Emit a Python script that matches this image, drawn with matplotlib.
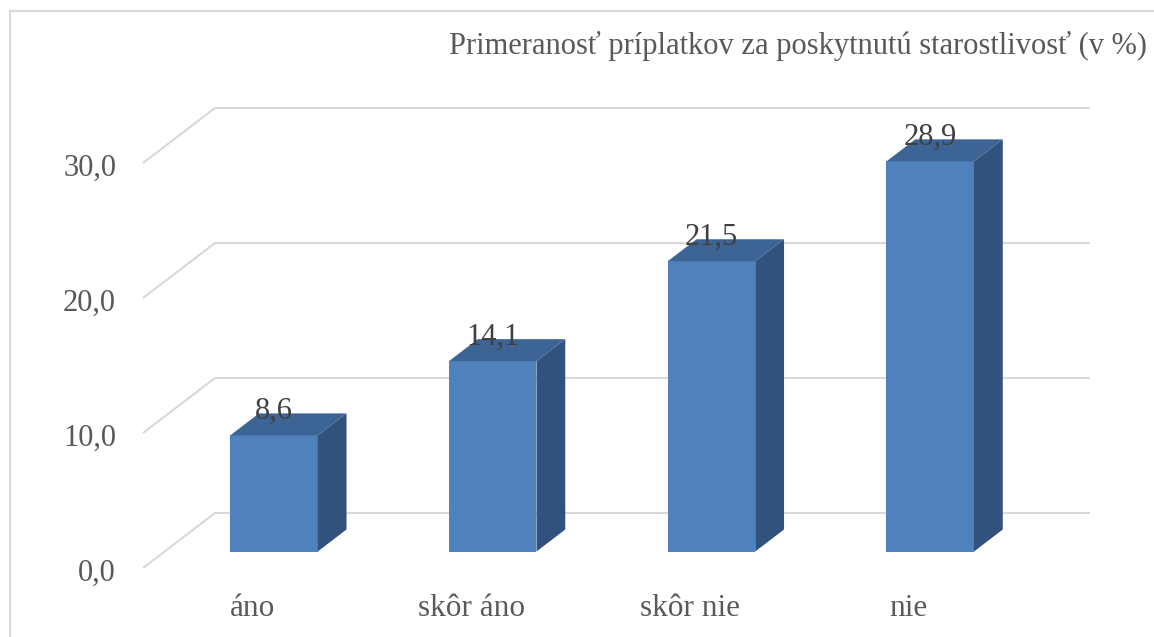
import matplotlib
matplotlib.use("Agg")
import matplotlib.pyplot as plt
from matplotlib.patches import Rectangle, Polygon

# data
categories = ["áno", "skôr áno", "skôr nie", "nie"]
values = [8.6, 14.1, 21.5, 28.9]
ticks = [0, 10, 20, 30]
title = "Primeranosť príplatkov za poskytnutú starostlivosť (v %)"

plt.rcParams["font.family"] = ["Liberation Serif", "DejaVu Serif"]

W, H = 1154, 637
fig = plt.figure(figsize=(W / 100, H / 100), dpi=100)
ax = fig.add_axes([0, 0, 1, 1])

# pixel layout of the pseudo-3D floor
slot_px, unit_px = 218.75, 13.5
x0_px, y0_px = 143, 568
ax.set_xlim(-x0_px / slot_px, (W - x0_px) / slot_px)
ax.set_ylim(-(H - y0_px) / unit_px, y0_px / unit_px)
ax.axis("off")

dx, dy = 72 / slot_px, 55 / unit_px  # full depth offset in data units
z0, dz = 0.3, 0.4                    # bar position inside the depth
n = len(categories)

grid_col = "#d9d9d9"
txt_col = "#595959"
fs = 22

# gridlines on left wall + back wall, tick labels
for t in ticks:
    ax.plot([0, dx, n + dx], [t, t + dy, t + dy], color=grid_col, lw=1.5, zorder=1,
            solid_capstyle="butt")
    ax.text(-0.123, t - 0.4, f"{t:.1f}".replace(".", ","), ha="right", va="center",
            fontsize=fs, color=txt_col)

front, top_c, side_c = "#4f81bd", "#3c6494", "#30527d"
w = 0.4
lefts = [i + 0.3 + z0 * dx for i in range(n)]
base = z0 * dy
ax.bar(lefts, values, width=w, bottom=base, align="edge", color=front, zorder=3)

for l, v in zip(lefts, values):
    r = l + w
    ox, oy = dz * dx, dz * dy
    side = Polygon([(r, base), (r + ox, base + oy), (r + ox, base + v + oy), (r, base + v)],
                   closed=True, fc=side_c, ec="none", zorder=3)
    top = Polygon([(l, base + v), (r, base + v), (r + ox, base + v + oy), (l + ox, base + v + oy)],
                  closed=True, fc=top_c, ec="none", zorder=3)
    ax.add_patch(side)
    ax.add_patch(top)
    ax.text(l + w / 2, v + 3.0, f"{v:.1f}".replace(".", ","), ha="center", va="center",
            fontsize=fs, color="#404040", zorder=5)

for i, c in enumerate(categories):
    ax.text(i + 0.5, -3.0, c, ha="center", va="center", fontsize=fs + 0.5, color=txt_col)

ax.text((1147 - x0_px) / slot_px, (y0_px - 46) / unit_px, title, ha="right", va="center",
        fontsize=22, color=txt_col)

# chart border
fig.add_artist(Rectangle((10 / W, -0.1), 1.2, (H - 11) / H + 0.1, transform=fig.transFigure,
                         fill=False, ec=grid_col, lw=1.5))

fig.savefig("out.png", dpi=100)
